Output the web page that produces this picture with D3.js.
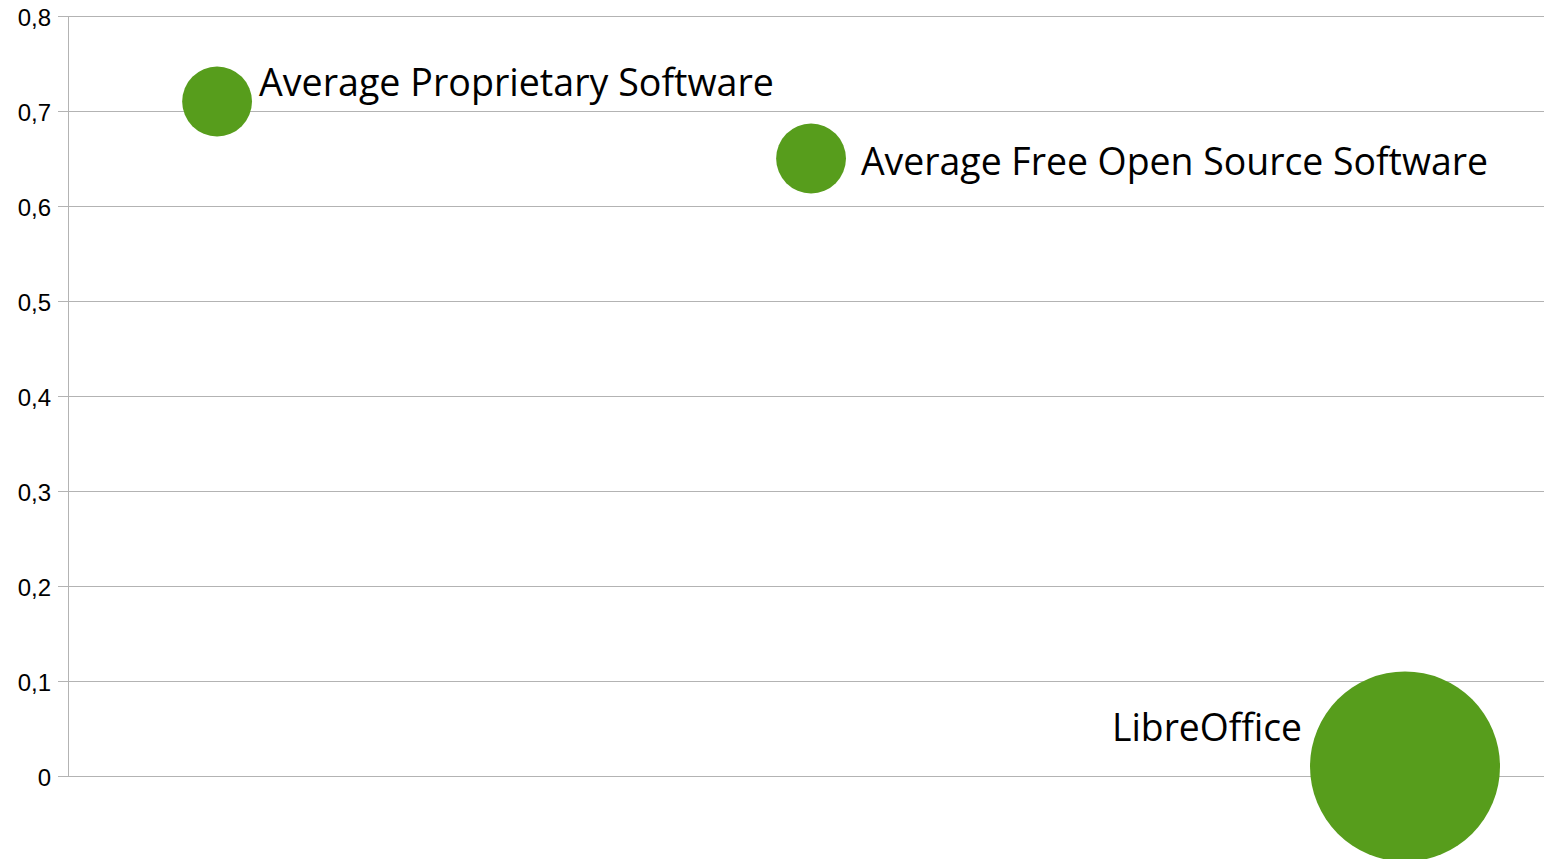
<!DOCTYPE html>
<html>
<head>
<meta charset="utf-8">
<script src="https://cdn.jsdelivr.net/npm/d3@7"></script>
<style>
  html, body { margin: 0; padding: 0; background: #fff; overflow: hidden; }
</style>
</head>
<body>
<script>
// chart values
const names = ["Average Proprietary Software", "Average Free Open Source Software", "LibreOffice"];
const xValues = [1, 2, 3];
const yValues = [0.71, 0.65, 0.01];
const sizes = [0.1, 0.1, 0.74];
const yTicks = [0, 0.1, 0.2, 0.3, 0.4, 0.5, 0.6, 0.7, 0.8];

// label placement: side of bubble, gap from edge, vertical shift, target width
const labelPlace = [
  { side: "right", gap: 7, dy: -19, w: 515 },
  { side: "right", gap: 15, dy: 3, w: 627 },
  { side: "left", gap: 8, dy: -39, w: 190 }
];

const W = 1544, H = 859;
const margin = { top: 16, right: 0, bottom: 83, left: 68 };

const svg = d3.select("body").append("svg")
  .attr("width", W)
  .attr("height", H);

const x = d3.scaleLinear()
  .domain([0.749, 3.234])
  .range([margin.left, W - margin.right]);

const y = d3.scaleLinear()
  .domain([0, 0.8])
  .range([H - margin.bottom, margin.top]);

const r = d3.scaleSqrt()
  .domain([0, 0.74])
  .range([0, 95]);

const fmt = v => d3.format(".1~f")(v).replace(".", ",");

// gridlines
svg.append("g")
  .selectAll("line")
  .data(yTicks)
  .enter().append("line")
  .attr("x1", margin.left - 10)
  .attr("x2", W)
  .attr("y1", d => Math.round(y(d)) + 0.5)
  .attr("y2", d => Math.round(y(d)) + 0.5)
  .attr("stroke", "#b3b3b3")
  .attr("stroke-width", 1);

// y axis line
svg.append("line")
  .attr("x1", margin.left + 0.5)
  .attr("x2", margin.left + 0.5)
  .attr("y1", y(0.8))
  .attr("y2", y(0))
  .attr("stroke", "#b3b3b3")
  .attr("stroke-width", 1);

// tick labels
svg.append("g")
  .selectAll("text")
  .data(yTicks)
  .enter().append("text")
  .attr("x", 51)
  .attr("y", d => y(d) + 2)
  .attr("dy", "0.35em")
  .attr("text-anchor", "end")
  .attr("font-family", "'Liberation Sans', Arial, sans-serif")
  .attr("font-size", "24px")
  .attr("fill", "#000")
  .text(d => fmt(d));

const data = names.map((n, i) => ({ name: n, x: xValues[i], y: yValues[i], s: sizes[i], p: labelPlace[i] }));

// bubbles
svg.append("g")
  .selectAll("circle")
  .data(data)
  .enter().append("circle")
  .attr("cx", d => x(d.x))
  .attr("cy", d => y(d.y))
  .attr("r", d => r(d.s))
  .attr("fill", "#579d1c");

// labels
svg.append("g")
  .selectAll("text")
  .data(data)
  .enter().append("text")
  .attr("x", d => d.p.side === "right" ? x(d.x) + r(d.s) + d.p.gap : x(d.x) - r(d.s) - d.p.gap)
  .attr("y", d => y(d.y) + d.p.dy)
  .attr("dy", "0.35em")
  .attr("text-anchor", d => d.p.side === "right" ? "start" : "end")
  .attr("font-family", "'Open Sans', 'Noto Sans', sans-serif")
  .attr("font-size", "38px")
  .attr("fill", "#000")
  .attr("textLength", d => d.p.w)
  .attr("lengthAdjust", "spacingAndGlyphs")
  .text(d => d.name);
</script>
</body>
</html>
